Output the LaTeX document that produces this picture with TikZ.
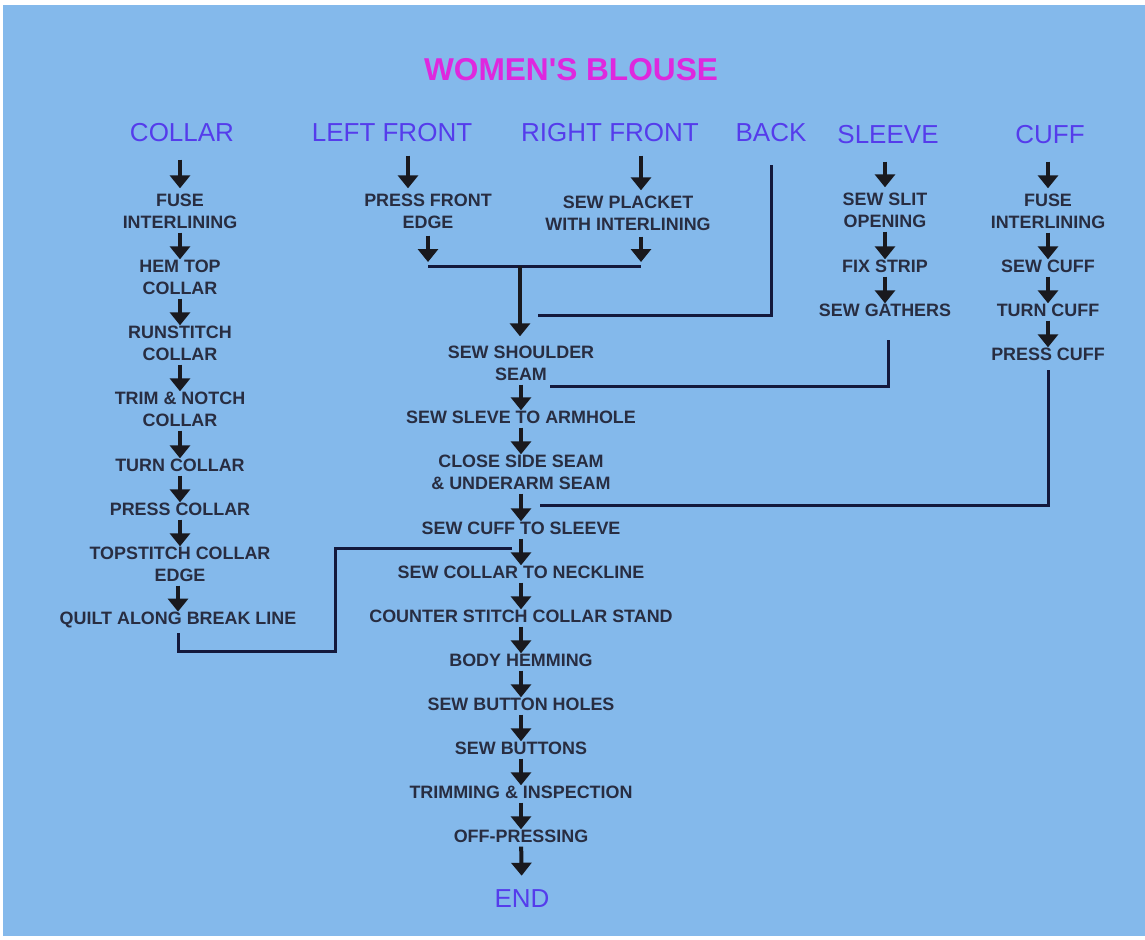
\documentclass[tikz,border=0pt]{standalone}
\usepackage{fontspec}
\setmainfont{Liberation Sans}
\usetikzlibrary{arrows.meta}
\usetikzlibrary{positioning}
\definecolor{bgblue}{RGB}{132,185,235}
\definecolor{titlemag}{RGB}{222,40,222}
\definecolor{partviolet}{RGB}{85,60,235}
\definecolor{optext}{RGB}{40,45,65}
\definecolor{arrowblk}{RGB}{25,25,30}
\definecolor{linknavy}{RGB}{20,25,60}
\tikzset{
    title/.style = {text=titlemag,font=\bfseries\fontsize{18pt}{20pt}\selectfont,inner sep=0},
    part/.style = {text=partviolet,font=\fontsize{14.8pt}{16pt}\selectfont,inner sep=0},
    op/.style = {text=optext,font=\bfseries\fontsize{10.2pt}{12.5pt}\selectfont,align=center,inner sep=0},
    flow/.style = {line width=0.08cm,draw=arrowblk,-{Triangle[width=0.4cm,length=0.26cm]},shorten <=0.08cm},
    startflow/.style = {flow,shorten <=0.34cm,shorten >=0.1cm},
    link/.style = {line width=0.06cm,draw=linknavy}
}

\begin{document}
\begin{tikzpicture}[x=0.02cm,y=-0.02cm]
        \useasboundingbox (0,0) rectangle (1145,939);
        \fill[white] (0,0) rectangle (1145,939);
        \fill[bgblue] (3,5) rectangle (1145,936);
        % Title and parts
        \node[title] (title) at (571,70) {WOMEN\textquotesingle S BLOUSE};
        \node[part] (collar) at (182,133) {COLLAR};
        \node[part] (lfront) at (392,133) {LEFT FRONT};
        \node[part] (rfront) at (610,133) {RIGHT FRONT};
        \node[part] (back) at (771,133) {BACK};
        \node[part] (sleeve) at (888,135) {SLEEVE};
        \node[part] (cuff) at (1050,135) {CUFF};
        % Collar
        \node[op] (c1) at (180,211) {FUSE\\INTERLINING};
        \node[op] (c2) at (180,277) {HEM TOP\\COLLAR};
        \node[op] (c3) at (180,343) {RUNSTITCH\\COLLAR};
        \node[op] (c4) at (180,409) {TRIM \& NOTCH\\COLLAR};
        \node[op] (c5) at (180,465) {TURN COLLAR};
        \node[op] (c6) at (180,509) {PRESS COLLAR};
        \node[op] (c7) at (180,564) {TOPSTITCH COLLAR\\EDGE};
        \node[op] (c8) at (178,620) {QUILT ALONG BREAK LINE};
        % Fronts
        \node[op] (pf) at (428,211) {PRESS FRONT\\EDGE};
        \node[op] (spl) at (628,213) {SEW PLACKET\\WITH INTERLINING};
        % Sleeve
        \node[op] (s1) at (885,210) {SEW SLIT\\OPENING};
        \node[op] (s2) at (885,266) {FIX STRIP};
        \node[op] (s3) at (885,310) {SEW GATHERS};
        % Cuff
        \node[op] (f1) at (1048,211) {FUSE\\INTERLINING};
        \node[op] (f2) at (1048,266) {SEW CUFF};
        \node[op] (f3) at (1048,310) {TURN CUFF};
        \node[op] (f4) at (1048,354) {PRESS CUFF};
        % Assembly
        \node[op] (shoulder) at (521,363) {SEW SHOULDER\\SEAM};
        \node[op] (armhole) at (521,417) {SEW SLEVE TO ARMHOLE};
        \node[op] (side) at (521,472) {CLOSE SIDE SEAM\\\& UNDERARM SEAM};
        \node[op] (cuffsew) at (521,528) {SEW CUFF TO SLEEVE};
        \node[op] (neck) at (521,572) {SEW COLLAR TO NECKLINE};
        \node[op] (stand) at (521,616) {COUNTER STITCH COLLAR STAND};
        \node[op] (hem) at (521,660) {BODY HEMMING};
        \node[op] (holes) at (521,704) {SEW BUTTON HOLES};
        \node[op] (buttons) at (521,748) {SEW BUTTONS};
        \node[op] (trim) at (521,792) {TRIMMING \& INSPECTION};
        \node[op] (press) at (521,836) {OFF-PRESSING};
        \node[part] (finish) at (522,899) {END};
        % Joints
        \coordinate (lfx) at (408,0);
        \coordinate (rfx) at (641,0);
        \coordinate (mergel) at (428,266);
        \coordinate (merge) at (520,266);
        \coordinate (merger) at (641,266);
        \coordinate (backin) at (538,315);
        \coordinate (sleevein) at (550,386);
        \coordinate (cuffin) at (540,505);
        \coordinate (collarturn) at (335,651);
        \coordinate (collarin) at (512,548);
        % Flow
        \foreach \src/\dest in {collar/c1,sleeve/s1,cuff/f1}
            \draw[startflow] (\src.south -| \dest) -- (\dest.north);
        \draw[startflow,shorten <=0.26cm] (lfront.south -| lfx) -- (pf.north -| lfx);
        \draw[startflow,shorten <=0.26cm] (rfront.south -| rfx) -- (spl.north -| rfx);
        \foreach \src/\dest in {c1/c2,c2/c3,c3/c4,c4/c5,c5/c6,c6/c7,c7/c8,s1/s2,s2/s3,f1/f2,f2/f3,f3/f4,
            shoulder/armhole,armhole/side,side/cuffsew,cuffsew/neck,neck/stand,stand/hem,hem/holes,
            holes/buttons,buttons/trim,trim/press}
            \draw[flow] (\src.south -| \dest) -- (\dest.north);
        \draw[flow,shorten >=0.28cm] (press) -- (finish);
        \draw[flow,shorten <=0.14cm,shorten >=0.08cm] (pf.south) -- (mergel);
        \draw[flow,shorten <=0.12cm,shorten >=0.08cm] (spl.south -| merger) -- (merger);
        \draw[link] (mergel) -- (merger);
        \draw[flow,shorten <=0,shorten >=0.18cm] (merge) -- (merge |- shoulder.north);
        % Links
        \draw[link,shorten <=0.45cm] (back.south) |- (backin);
        \draw[link,shorten <=0.47cm] (s3.south -| sleeve) |- (sleevein);
        \draw[link,shorten <=0.19cm] (f4.south) |- (cuffin);
        \draw[link,shorten <=0.1cm] (c8.south) |- (collarturn) |- (collarin);
\end{tikzpicture}
\end{document}
